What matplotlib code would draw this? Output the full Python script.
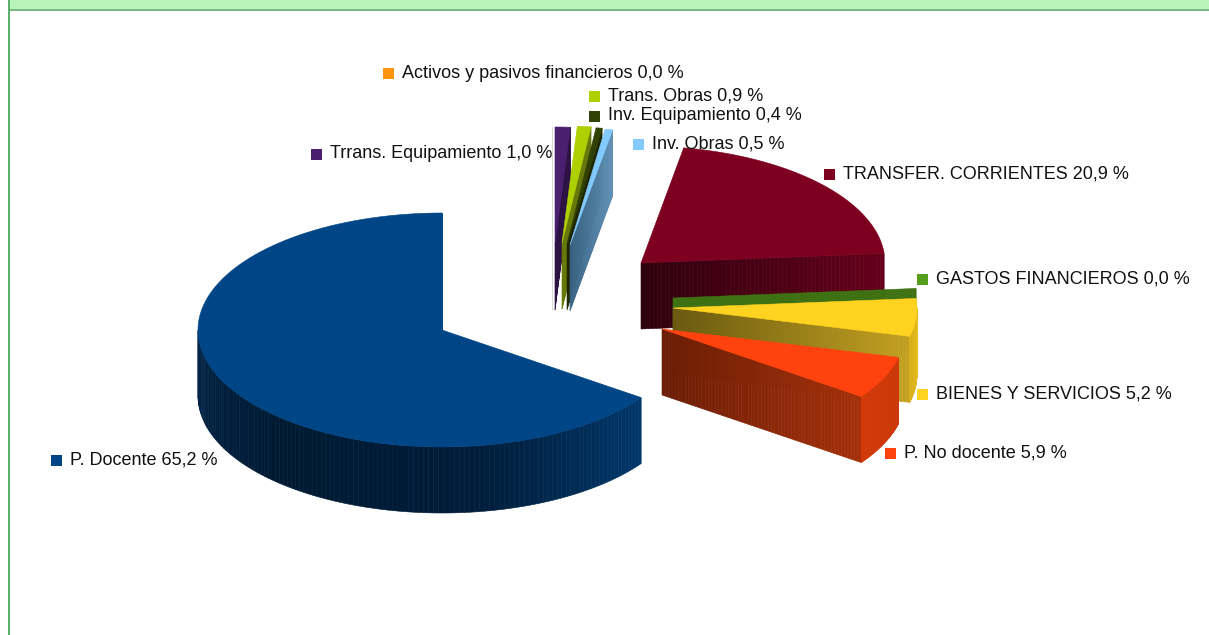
#!/usr/bin/env python3
from __future__ import annotations

import matplotlib

matplotlib.use("Agg")
import matplotlib.pyplot as plt
import numpy as np
from matplotlib.collections import PolyCollection
from matplotlib.colors import to_rgb
from matplotlib.patches import Polygon, Rectangle

plt.rcParams["font.family"] = ["Liberation Sans", "DejaVu Sans"]

# pie order, counter clockwise from 12 o'clock
categories = [
    "P. Docente",
    "P. No docente",
    "BIENES Y SERVICIOS",
    "GASTOS FINANCIEROS",
    "TRANSFER. CORRIENTES",
    "Inv. Obras",
    "Inv. Equipamiento",
    "Trans. Obras",
    "Trrans. Equipamiento",
    "Activos y pasivos financieros",
]
values = [65.2, 5.9, 5.2, 0.0, 20.9, 0.5, 0.4, 0.9, 1.0, 0.0]
colors = ["#004586", "#ff420e", "#ffd320", "#579d1c", "#7e0021", "#83caff", "#314004", "#aecf00", "#4b1f6f", "#ff950e"]

# exploded apex of each slice, pixels
apex_x = [442, 662, 673, 673, 641, 570, 567, 562, 555, 552]
apex_y = [330, 329, 308, 298, 263, 245, 244, 243, 244, 244]

# cut wall shading from apex to rim, and outer rim shading from first to last visible angle
wall_from = ["#004586", "#6b1d05", "#6b5a10", "#3f7213", "#2f000d", "#3a6384", "#1e2702", "#66790a", "#2d1343", "#d9d9d9"]
wall_to = ["#004586", "#a5300b", "#c4a122", "#3f7213", "#640019", "#5f90b5", "#1e2702", "#66790a", "#2d1343", "#d9d9d9"]
rim_stops = {
    0: ["#002347", "#001a33", "#001c38", "#00376b"],
    1: ["#d23a0a", "#cc3809"],
    2: ["#d8ae1a", "#e6bd1c"],
}

# legend square and label text, same order as categories
label_x = [70, 904, 936, 936, 843, 652, 608, 608, 330, 402]
label_y = [460, 453, 394, 279, 174, 144, 116, 96, 154, 73]

RX = 244
RY = 117
DEPTH = 66


def rim_point(a: np.ndarray, cx: float, cy: float) -> tuple[np.ndarray, np.ndarray]:
    rad = np.radians(a)
    return cx - RX * np.sin(rad), cy - RY * np.cos(rad)


def ramp(stops: list[str], n: int) -> np.ndarray:
    rgb = np.array([to_rgb(c) for c in stops])
    pos = np.linspace(0, 1, len(stops))
    t = np.linspace(0, 1, n)
    return np.column_stack([np.interp(t, pos, rgb[:, i]) for i in range(3)])


def draw_slice(ax, i: int, start: float, end: float) -> None:
    cx, cy = apex_x[i], apex_y[i]

    # wall on the clockwise cut, drawn as thin strips to get the gradient
    ex, ey = rim_point(np.array(start), cx, cy)
    t = np.linspace(0, 1, 61)
    xs = cx + (ex - cx) * t
    ys = cy + (ey - cy) * t
    strips = [
        [(xs[k], ys[k]), (xs[k + 1], ys[k + 1]), (xs[k + 1], ys[k + 1] + DEPTH), (xs[k], ys[k] + DEPTH)]
        for k in range(60)
    ]
    shades = ramp([wall_from[i], wall_to[i]], 60)
    ax.add_collection(PolyCollection(strips, facecolors=shades, edgecolors=shades, linewidths=0.4, zorder=i_z(i)))

    # outer rim, only where it faces the viewer
    lo, hi = max(start, 90.0), min(end, 270.0)
    if hi > lo and i in rim_stops:
        a = np.linspace(lo, hi, 121)
        rx, ry = rim_point(a, cx, cy)
        strips = [
            [(rx[k], ry[k]), (rx[k + 1], ry[k + 1]), (rx[k + 1], ry[k + 1] + DEPTH), (rx[k], ry[k] + DEPTH)]
            for k in range(120)
        ]
        shades = ramp(rim_stops[i], 120)
        ax.add_collection(PolyCollection(strips, facecolors=shades, edgecolors=shades, linewidths=0.4, zorder=i_z(i)))

    # top face
    if end > start:
        a = np.linspace(start, end, 181)
        rx, ry = rim_point(a, cx, cy)
        pts = np.column_stack([np.r_[cx, rx], np.r_[cy, ry]])
        ax.add_patch(Polygon(pts, closed=True, facecolor=colors[i], edgecolor=colors[i], linewidth=0.4, zorder=i_z(i) + 0.5))


def i_z(i: int) -> float:
    # back to front: far slices first, P. Docente and the front slices last
    return 2 + (9 - i)


def main() -> None:
    fig = plt.figure(figsize=(12.09, 6.35), dpi=100)
    ax = fig.add_axes([0, 0, 1, 1])
    ax.set_xlim(0, 1209)
    ax.set_ylim(635, 0)
    ax.axis("off")

    # page frame
    ax.add_patch(Rectangle((10, 0), 1199, 9.5, facecolor="#b9f3b9", edgecolor="none", zorder=1))
    ax.add_patch(Rectangle((8, 9), 1201, 2, facecolor="#77b97f", edgecolor="none", zorder=1))
    ax.add_patch(Rectangle((8, 0), 2, 635, facecolor="#5bb06b", edgecolor="none", zorder=1))

    edges = np.r_[0, np.cumsum(values)] * 3.6
    for i in range(len(values)):
        draw_slice(ax, i, edges[i], edges[i + 1])

    for i, cat in enumerate(categories):
        text = f"{cat} {values[i]:.1f} %".replace(".", ",", 1) if "." not in cat else None
        if text is None:
            text = f"{cat} " + f"{values[i]:.1f}".replace(".", ",") + " %"
        ax.add_patch(Rectangle((label_x[i] - 19, label_y[i] - 5.5), 11, 11, facecolor=colors[i], edgecolor="none", zorder=30))
        ax.text(label_x[i], label_y[i], text, fontsize=13, color="#111111", va="center", ha="left", zorder=31)

    fig.savefig("out.png", dpi=100)
    plt.close(fig)


if __name__ == "__main__":
    main()
